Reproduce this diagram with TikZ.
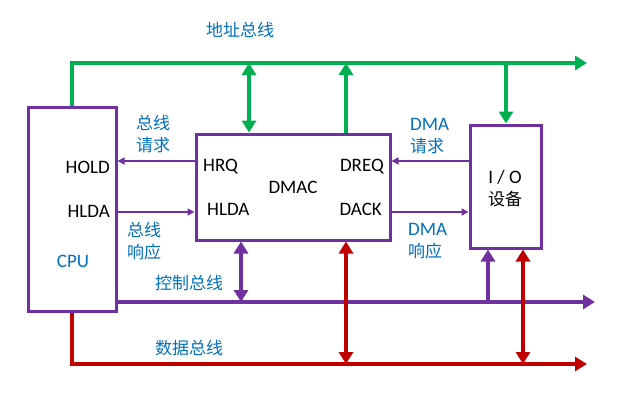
\documentclass[tikz,border=0pt]{standalone}
\usepackage{fontspec}
\setmainfont{Carlito}
\newfontfamily\cjk{Noto Sans CJK SC}
\usetikzlibrary{arrows.meta}
\definecolor{gbus}{RGB}{0,176,80}
\definecolor{pbus}{RGB}{112,48,160}
\definecolor{rbus}{RGB}{192,0,0}
\definecolor{btext}{RGB}{0,112,192}
\begin{document}
\begin{tikzpicture}[x=1pt,y=-1pt,
  box/.style={draw=pbus,line width=3pt,fill=white,inner sep=0pt},
  lat/.style={font=\fontsize{19}{22}\selectfont,inner sep=0pt},
  zh/.style={font=\fontsize{17}{22}\selectfont\cjk,text=btext,inner sep=0pt,align=left},
  bigtip/.style={-{Triangle[length=12pt,width=14pt]}},
  dbltip/.style={{Triangle[length=12pt,width=14pt]}-{Triangle[length=12pt,width=14pt]}},
  green bus/.style={draw=gbus,line width=4.5pt},
  purple bus/.style={draw=pbus,line width=4.5pt},
  red bus/.style={draw=rbus,line width=4.5pt},
  thin/.style={draw=pbus,line width=1.5pt,-{Triangle[length=7pt,width=7pt]}}]
\useasboundingbox (0,0) rectangle (625,408);
% boxes
\node[box,minimum width=88pt,minimum height=204pt] (cpu) at (72,209) {};
\node[box,minimum width=194pt,minimum height=106pt] (dmac) at (293,187) {};
\node[box,minimum width=71pt,minimum height=123pt] (io) at (505.5,186.5) {};
% bus coordinates
\coordinate (gend) at (587,63);
\coordinate (gcorner) at (72,63);
\coordinate (ga) at (249,63);
\coordinate (gb) at (346,63);
\coordinate (gc) at (506,63);
\coordinate (pend) at (595,302);
\coordinate (pstart) at (116,302);
\coordinate (pa) at (241,302);
\coordinate (pb) at (488,302);
\coordinate (rend) at (587,364);
\coordinate (rcorner) at (72,364);
\coordinate (ra) at (346,364);
\coordinate (rb) at (523,364);
% address bus
\draw[green bus,bigtip] (cpu.north) -- (gcorner) -- (gend);
\draw[green bus,dbltip] (ga) -- (ga |- dmac.north);
\draw[green bus,bigtip] (gb |- dmac.north) -- (gb);
\draw[green bus,bigtip] (gc) -- (gc |- io.north);
% control bus
\draw[purple bus,bigtip] (pstart) -- (pend);
\draw[purple bus,dbltip] (pa |- dmac.south) -- (pa);
\draw[purple bus,bigtip] (pb) -- (pb |- io.south);
% data bus
\draw[red bus,bigtip] (cpu.south) -- (rcorner) -- (rend);
\draw[red bus,dbltip] (ra |- dmac.south) -- (ra);
\draw[red bus,dbltip] (rb |- io.south) -- (rb);
% thin signal arrows
\coordinate (y1) at (0,161);
\coordinate (y2) at (0,212);
\draw[thin] (dmac.west |- y1) -- (cpu.east |- y1);
\draw[thin] (cpu.east |- y2) -- (dmac.west |- y2);
\draw[thin] (io.west |- y1) -- (dmac.east |- y1);
\draw[thin] (dmac.east |- y2) -- (io.west |- y2);
% texts
\node[zh] (tab) at (240,30) {地址总线};
\node[zh,anchor=west] (treq) at (136,134) {总线\\请求};
\node[zh,anchor=west] (tack) at (127,241) {总线\\响应};
\node[zh,anchor=west] (tdreq) at (410,136) {\fontsize{19}{22}\selectfont\rmfamily DMA\\\fontsize{17}{22}\selectfont\cjk 请求};
\node[zh,anchor=west] (tdack) at (408,241) {\fontsize{19}{22}\selectfont\rmfamily DMA\\\fontsize{17}{22}\selectfont\cjk 响应};
\node[zh] (tcb) at (189,283) {控制总线};
\node[zh] (tdb) at (189,348) {数据总线};
\node[lat,anchor=east] (hold) at (110,167) {HOLD};
\node[lat,anchor=east] (hlda1) at (110,211) {HLDA};
\node[lat,text=btext] (cpul) at (73,261) {CPU};
\node[lat,anchor=west] (hrq) at (203,167) {HRQ};
\node[lat] (dmacl) at (293,187) {DMAC};
\node[lat,anchor=west] (hlda2) at (207,209) {HLDA};
\node[lat,anchor=east] (dreq) at (384,167) {DREQ};
\node[lat,anchor=east] (dack) at (382,209) {DACK};
\node[lat] (iol) at (505,177) {I / O};
\node[zh,text=black] (iodev) at (505,199) {设备};
\end{tikzpicture}
\end{document}
